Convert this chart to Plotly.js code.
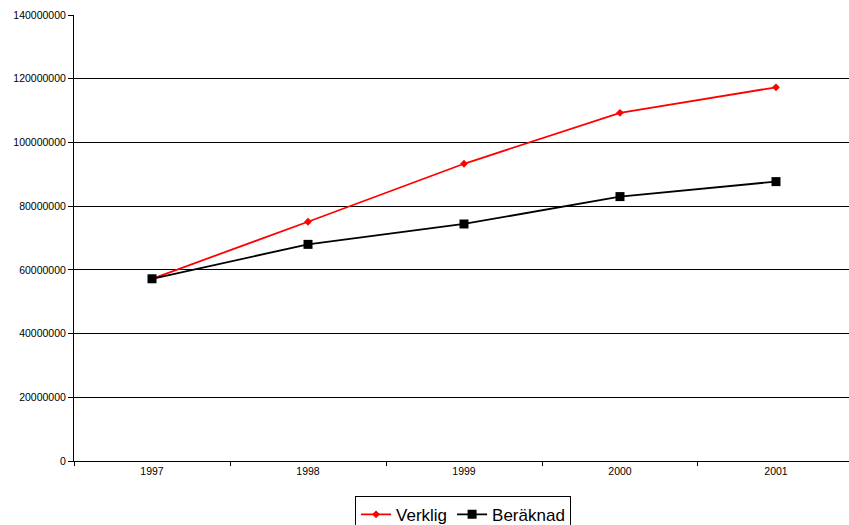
<!DOCTYPE html>
<html>
<head>
<meta charset="utf-8">
<script src="https://cdn.plot.ly/plotly-3.0.1.min.js"></script>
<style>
  html, body { margin: 0; padding: 0; background: #fff; overflow: hidden; }
  #chart { width: 849px; height: 525px; }
</style>
</head>
<body>
<div id="chart"></div>
<script>
// Years on the category axis
const years = ['1997', '1998', '1999', '2000', '2001'];
// Actual values
const verklig = [57200000, 75100000, 93300000, 109300000, 117300000];
// Calculated values
const beraknad = [57200000, 68000000, 74400000, 83000000, 87700000];
// Value axis ticks
const yTicks = [0, 20000000, 40000000, 60000000, 80000000, 100000000, 120000000, 140000000];

const traces = [
  {
    x: years, y: verklig, name: 'Verklig', type: 'scatter', mode: 'lines+markers',
    line: { color: '#ff0000', width: 1.8 },
    marker: { symbol: 'diamond', size: 6, color: '#ff0000' }
  },
  {
    x: years, y: beraknad, name: 'Beräknad', type: 'scatter', mode: 'lines+markers',
    line: { color: '#000000', width: 1.8 },
    marker: { symbol: 'square', size: 9, color: '#000000' }
  }
];

const layout = {
  width: 849, height: 525,
  margin: { l: 74, r: 0, t: 15, b: 64, autoexpand: false },
  paper_bgcolor: '#ffffff', plot_bgcolor: '#ffffff',
  font: { family: 'Liberation Sans, Arial, sans-serif', size: 10.5, color: '#000' },
  showlegend: true,
  legend: {
    orientation: 'h', x: 0.502, xanchor: 'center', y: -0.078, yanchor: 'top',
    font: { size: 17, color: '#000' },
    bordercolor: '#000', borderwidth: 1, bgcolor: '#fff',
    itemwidth: 30
  },
  xaxis: {
    type: 'category', range: [-0.5, 4.468],
    tickson: 'boundaries', ticks: 'outside', ticklen: 4, tickcolor: '#000',
    showgrid: false, zeroline: false,
    showline: true, linecolor: '#000', linewidth: 1,
    tickfont: { size: 10.5 }
  },
  yaxis: {
    range: [0, 140000000], tickvals: yTicks,
    ticktext: yTicks.map(v => String(v)),
    ticks: 'outside', ticklen: 5, tickcolor: '#000',
    showgrid: true, gridcolor: '#000', gridwidth: 1,
    zeroline: false,
    showline: true, linecolor: '#000', linewidth: 1,
    tickfont: { size: 10.5 }
  }
};

Plotly.newPlot('chart', traces, layout, { displayModeBar: false, staticPlot: true });
</script>
</body>
</html>
